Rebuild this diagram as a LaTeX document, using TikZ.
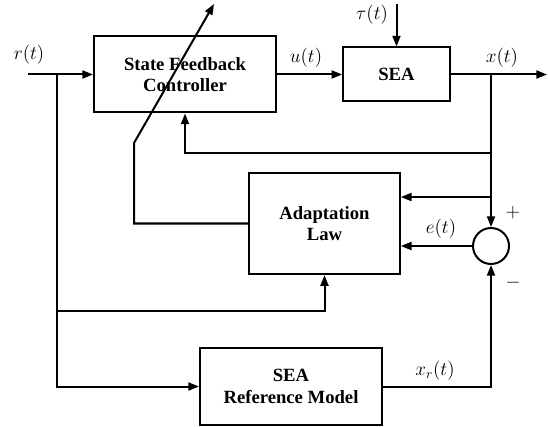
\documentclass[tikz,border=0pt]{standalone}
\usepackage{fontspec}
\setmainfont{Liberation Serif}
\usetikzlibrary{arrows.meta}

\begin{document}
\begin{tikzpicture}[x=0.75pt, y=-0.75pt, line width=1.5pt,
	block/.style={draw, rectangle, align=center, font=\fontsize{14}{16}\selectfont\bfseries},
	sig/.style={-{Triangle[length=8pt,width=6pt]}},
	lbl/.style={font=\fontsize{14}{16}\selectfont}]
	\useasboundingbox (0,0) rectangle (548,427);
	\node[block, minimum width=136.5pt, minimum height=57pt] (ctrl) at (185,74.5) {State Feedback\\Controller};
	\node[block, minimum width=80pt, minimum height=40.5pt] (sea) at (396.5,74.5) {SEA};
	\node[block, minimum width=113pt, minimum height=76pt] (adapt) at (324.5,223.5) {Adaptation\\Law};
	\node[block, minimum width=136.5pt, minimum height=58pt] (ref) at (291,386.5) {SEA\\Reference Model};
	\node[draw, circle, minimum size=27pt, inner sep=0pt] (sum) at (491,246) {};
	\coordinate (rin) at (28,74.5);
	\coordinate (rb) at (57,74.5);
	\coordinate (rb2) at (57,311);
	\coordinate (tau) at (396.5,4);
	\coordinate (xout) at (547,74.5);
	\coordinate (xb) at (491,74.5);
	\coordinate (fb) at (491,153);
	\coordinate (fb2) at (491,197);
	\coordinate (tune) at (134,143);
	\coordinate (tip) at (214,4);
	% signals
	\draw[sig] (rin) -- (ctrl.west);
	\draw[sig] (rb) |- (ref.west);
	\draw[sig] (rb2) -| (adapt.south);
	\draw[sig] (ctrl.east) -- (sea.west);
	\draw[sig] (tau) -- (sea.north);
	\draw[sig] (sea.east) -- (xout);
	\draw[sig] (xb) -- (sum.north);
	\draw[sig] (fb) -| (ctrl.south);
	\draw[sig] (fb2) -- (adapt.east |- fb2);
	\draw[sig] (sum.west) -- (adapt.east |- sum.west);
	\draw[sig] (ref.east) -| (sum.south);
	\draw[sig] (adapt.west) -| (tune) -- (tip);
	% labels
	\node[lbl] (lr) at (29,55) {$r(t)$};
	\node[lbl] (lu) at (306,58) {$u(t)$};
	\node[lbl] (ltau) at (372,15) {$\tau(t)$};
	\node[lbl] (lx) at (502,58) {$x(t)$};
	\node[lbl] (le) at (441,229) {$e(t)$};
	\node[lbl] (lxr) at (435,371) {$x_r(t)$};
	\node[lbl] (lplus) at (513,213) {$+$};
	\node[lbl] (lminus) at (513,283) {$-$};
\end{tikzpicture}
\end{document}
